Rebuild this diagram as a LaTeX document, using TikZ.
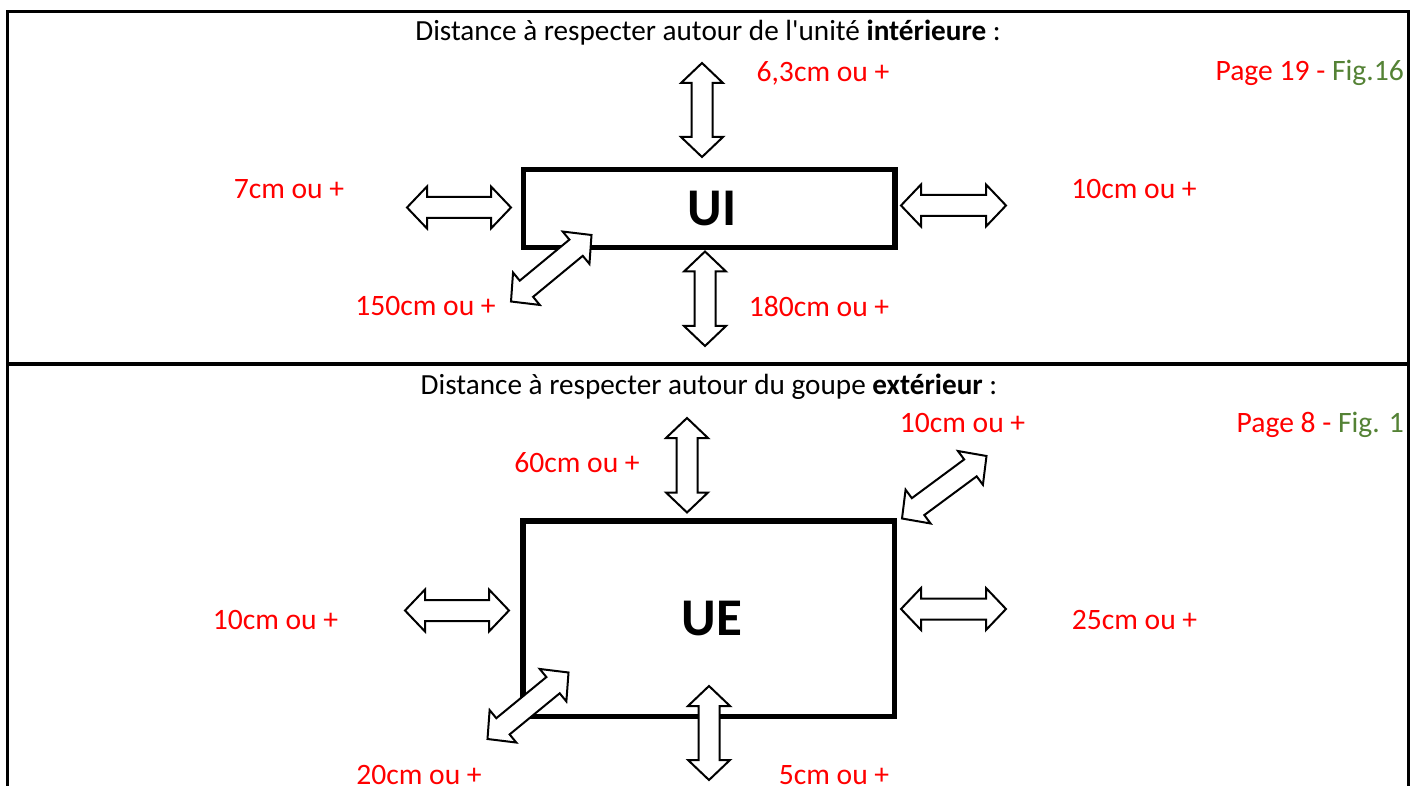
\documentclass[tikz,border=0pt]{standalone}
\usepackage{fontspec}
\setmainfont{Carlito}
\usetikzlibrary{calc}
\definecolor{lblred}{RGB}{255,0,0}
\definecolor{figgreen}{RGB}{84,130,53}
\newcommand\dblarrow[3]{%
  \coordinate (#1a) at #2;
  \coordinate (#1b) at #3;
  \coordinate (#1ha) at ($(#1a)!20pt!(#1b)$);
  \coordinate (#1hb) at ($(#1b)!20pt!(#1a)$);
  \draw[blockarrow] (#1a) -- ($(#1ha)!21pt!90:(#1b)$) -- ($(#1ha)!10.5pt!90:(#1b)$)
    -- ($(#1hb)!10.5pt!-90:(#1a)$) -- ($(#1hb)!21pt!-90:(#1a)$) -- (#1b)
    -- ($(#1hb)!21pt!90:(#1a)$) -- ($(#1hb)!10.5pt!90:(#1a)$)
    -- ($(#1ha)!10.5pt!-90:(#1b)$) -- ($(#1ha)!21pt!-90:(#1b)$) -- cycle;}
\tikzset{
  blockarrow/.style={draw=black, fill=white, line width=2pt, line join=miter},
  unitbox/.style={draw=black, line width=5.5pt, fill=none},
  frameline/.style={draw=black, line width=3pt},
  lbl/.style={text=lblred, anchor=base, inner sep=0pt, font=\fontsize{29.6}{34}\selectfont},
  ttl/.style={text=black, anchor=base, inner sep=0pt, font=\fontsize{29.2}{34}\selectfont},
  pg/.style={anchor=base east, inner sep=0pt, font=\fontsize{29.6}{34}\selectfont},
  unitname/.style={text=black, anchor=base, inner sep=0pt, font=\fontsize{53}{60}\selectfont\bfseries}
}
\begin{document}
\begin{tikzpicture}[x=1pt,y=-1pt]
\useasboundingbox (0,0) rectangle (1414,786);
% frame
\coordinate (ftl) at (7.5,11.5);
\coordinate (ftr) at (1408.5,11.5);
\coordinate (fbl) at (7.5,790);
\coordinate (fbr) at (1408.5,790);
\coordinate (fml) at (7.5,364);
\coordinate (fmr) at (1408.5,364);
\draw[frameline] (fbl) -- (ftl) -- (ftr) -- (fbr);
\draw[frameline] (fml) -- (fmr);
% titles
\node[ttl] (t1) at (708,41) {Distance à respecter autour de l\textquotesingle unité \textbf{intérieure} :};
\node[ttl] (t2) at (709,395) {Distance à respecter autour du goupe \textbf{extérieur} :};
\node[pg] (p1) at (1404,81) {\textcolor{lblred}{Page 19 -} \textcolor{figgreen}{Fig.16}};
\node[pg] (p2) at (1404,432) {\textcolor{lblred}{Page 8 -} \textcolor{figgreen}{Fig. 1}};
% boxes
\draw[unitbox] (523.5,169.5) rectangle (895,247.5);
\node[unitname] (ui) at (712,226) {UI};
\draw[unitbox] (523,521) rectangle (894.5,716.5);
\node[unitname] (ue) at (712,635) {UE};
% arrows, top panel
\dblarrow{ta}{(702,63)}{(702,157)}
\dblarrow{tl}{(407,207.5)}{(511,207.5)}
\dblarrow{tr}{(901,205.5)}{(1006,205.5)}
\dblarrow{td}{(511,301.5)}{(591.5,235)}
\dblarrow{tb}{(705,251.5)}{(705,346)}
% arrows, bottom panel
\dblarrow{ba}{(687,418)}{(687,512.5)}
\dblarrow{bl}{(405,610.5)}{(509,610.5)}
\dblarrow{br}{(901,609)}{(1006,609)}
\dblarrow{bd}{(902,518.5)}{(986.5,456)}
\dblarrow{bc}{(487.5,739)}{(568.5,672.5)}
\dblarrow{bb}{(709,686)}{(709,780)}
% labels, top panel
\node[lbl] (l1) at (823,82) {6,3cm ou +};
\node[lbl] (l2) at (289,199) {7cm ou +};
\node[lbl] (l3) at (1134,198.5) {10cm ou +};
\node[lbl] (l4) at (425.5,316) {150cm ou +};
\node[lbl] (l5) at (819,317) {180cm ou +};
% labels, bottom panel
\node[lbl] (m1) at (577,472) {60cm ou +};
\node[lbl] (m2) at (962.5,432) {10cm ou +};
\node[lbl] (m3) at (275.5,629) {10cm ou +};
\node[lbl] (m4) at (1134.5,629) {25cm ou +};
\node[lbl] (m5) at (419,784) {20cm ou +};
\node[lbl] (m6) at (834,784) {5cm ou +};
\end{tikzpicture}
\end{document}
